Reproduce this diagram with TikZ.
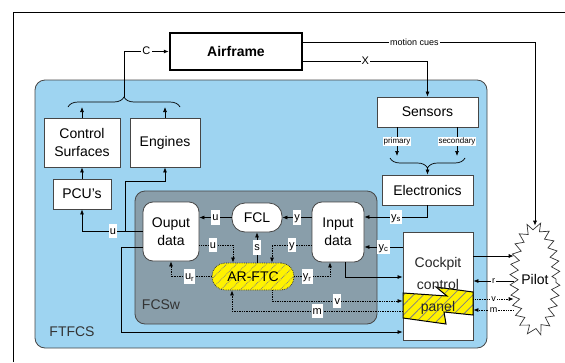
\documentclass[tikz,border=0pt]{standalone}
\usepackage{fontspec}
\setmainfont{Liberation Sans}
\usetikzlibrary{arrows.meta,calc,decorations.pathreplacing,decorations.pathmorphing,shapes.geometric,patterns.meta}
\definecolor{skyfill}{RGB}{158,212,241}
\definecolor{swgray}{RGB}{137,158,170}
\definecolor{edgegray}{RGB}{70,70,70}

\tikzset{
  blk/.style={draw=edgegray, fill=white, line width=0.8pt, align=center, inner sep=0pt,
    font=\fontsize{14}{18}\selectfont},
  swblk/.style={blk, rounded corners=10pt},
  lbl/.style={fill=white, inner sep=1.2pt, text height=9pt, text depth=3pt, font=\fontsize{11}{13}\selectfont},
  tinylbl/.style={fill=white, inner sep=1pt, font=\fontsize{8}{9}\selectfont},
  pilotlbl/.style={fill=white, inner sep=0.8pt, font=\fontsize{9}{10}\selectfont},
  flow/.style={line width=0.7pt, -{Latex[length=5pt,width=4pt]}},
  dflow/.style={flow, densely dotted},
  hatch/.style={preaction={fill=yellow}, pattern={Lines[angle=45,distance=7pt,line width=0.8pt]}, pattern color=black!50},
  bracket/.style={line width=0.7pt, decorate, decoration={brace, amplitude=10pt}},
}

\begin{document}
\begin{tikzpicture}[x=1pt,y=-1pt]
  \useasboundingbox (0,0) rectangle (565,362);
  % frame
  \draw[line width=0.8pt] (13,362) -- (13,12) -- (565,12);
  % FTFCS and FCSw areas
  \draw[edgegray, fill=skyfill, rounded corners=10pt, line width=0.8pt] (35,80) rectangle (487,348);
  \node[font=\fontsize{14}{16}\selectfont, text=black!80] (ftfcs) at (72,332) {FTFCS};
  \draw[edgegray, fill=swgray, rounded corners=10pt, line width=0.8pt] (135,191) rectangle (377,324);
  \node[font=\fontsize{14}{16}\selectfont, text=black!80] (fcsw) at (161,305) {FCSw};

  % blocks
  \node[blk, draw=black, line width=2.5pt, font=\bfseries\fontsize{14}{16}\selectfont,
        minimum width=132, minimum height=37] (airframe) at (236,51.5) {Airframe};
  \node[blk, minimum width=76, minimum height=49] (ctrl) at (82,142.5) {Control\\Surfaces};
  \node[blk, minimum width=70, minimum height=49] (engines) at (165,142.5) {Engines};
  \node[blk, minimum width=58, minimum height=30] (pcu) at (82,194) {PCU's};
  \node[blk, minimum width=101, minimum height=30] (sensors) at (427.5,112) {Sensors};
  \node[blk, minimum width=91, minimum height=30] (elec) at (427.5,190) {Electronics};
  \node[swblk, minimum width=56, minimum height=59] (ouput) at (171,231.5) {Ouput\\data};
  \node[swblk, rounded corners=13pt, minimum width=50, minimum height=29] (fcl) at (257,217.5) {FCL};
  \node[swblk, minimum width=52, minimum height=60] (input) at (338,232) {Input\\data};
  \node[hatch, draw=black!80, densely dotted, line width=0.8pt, rounded corners=13pt, inner sep=0pt,
        font=\fontsize{14}{16}\selectfont, minimum width=82, minimum height=27] (arftc) at (253,276.5) {AR-FTC};
  \node[blk, minimum width=70, minimum height=108] (cockpit) at (438,286) {};
  \draw[hatch, draw=black, line width=1pt] (403,293) -- (447,296) -- (436,287) -- (473,292) -- (473,315)
        -- (444,312) -- (446,324) -- (403,318) -- cycle;
  \node[align=center, font=\fontsize{14}{16}\selectfont, text=black!85] (cptext) at (cockpit) {Cockpit\\[6pt]control\\[6pt]panel};
  \node[ellipse, draw=black!80, fill=white, line width=0.7pt, decorate,
        decoration={zigzag, segment length=10pt, amplitude=4pt}, inner sep=0pt,
        minimum width=42, minimum height=106, font=\fontsize{14}{16}\selectfont] (pilot) at (535,279) {Pilot};

  % airframe links
  \coordinate (cbl) at (68,107); \coordinate (cbr) at (180,107); \coordinate (ctip) at (124,97);
  \draw[bracket] (cbl) -- (cbr);
  \draw[flow] (ctip) |- node[lbl, pos=0.75] {C} (airframe.west);
  \draw[flow] (ctrl.north) -- (ctrl.north |- cbl);
  \draw[flow] (engines.north) -- (engines.north |- cbl);
  \draw[flow] (airframe.east |- 0,61) -| node[lbl, pos=0.25] {X} (sensors.north);
  \draw[flow] (airframe.east |- 0,42) -| node[pilotlbl, pos=0.24] {motion cues} (pilot.north);

  % sensors
  \coordinate (prim) at (397,156); \coordinate (sec) at (457,156);
  \coordinate (sbr) at (465,158); \coordinate (sbl) at (390,158); \coordinate (stip) at (427.5,168);
  \draw[flow] (sensors.south -| prim) -- node[tinylbl] {primary} (prim);
  \draw[flow] (sensors.south -| sec) -- node[tinylbl] {secondary} (sec);
  \draw[bracket] (sbr) -- (sbl);
  \draw[flow] (stip) -- (elec.north);
  \draw[flow] (elec.south) |- node[lbl, pos=0.75] {y\textsubscript{s}} (input.east |- 0,217);
  \draw[flow] (cockpit.west |- 0,247) -- node[lbl] {y\textsubscript{c}} (input.east |- 0,247);

  % inside FCSw
  \draw[flow] (input.west |- fcl) -- node[lbl] {y} (fcl.east);
  \draw[flow] (fcl.west) -- node[lbl] {u} (ouput.east |- fcl);
  \draw[flow] (arftc.north -| fcl) -- node[lbl] {s} (fcl.south);
  \draw[dflow] (ouput.east |- 0,245) -| node[lbl, pos=0.2] {u} ([xshift=-20pt]arftc.north);
  \draw[dflow] (input.west |- 0,245) -| node[lbl, pos=0.25] {y} ([xshift=19pt]arftc.north);
  \draw[dflow] (arftc.west) -| node[lbl, pos=0.27] {u\textsubscript{r}} (ouput.south);
  \draw[dflow] (arftc.east) -| node[lbl, pos=0.18] {y\textsubscript{r}} ([xshift=-8pt]input.south);
  \draw[flow] ([xshift=7pt]input.south) |- (cockpit.west |- 0,277);
  \draw[dflow] ([xshift=19pt]arftc.south) |- node[lbl, pos=0.75] {v} (cockpit.west |- 0,301);
  \draw[dflow] (cockpit.west |- 0,311) -| node[lbl, pos=0.25] {m} ([xshift=-21pt]arftc.south);

  % output data to actuators
  \coordinate (ubr) at (125,231); \coordinate (lpc) at (121,332);
  \draw[flow] (ouput.west |- 0,231) -| node[lbl, pos=0.245] {u} (pcu.south);
  \draw[flow] (ubr) |- ([yshift=-14pt]engines.south) -- (engines.south);
  \draw[flow] (pcu.north) -- (ctrl.south);
  \draw[flow] (ouput.west |- 0,247) -| (lpc) -- (cockpit.west |- lpc);

  % pilot
  \draw[flow] (cockpit.east |- 0,256) -- (pilot.west |- 0,256);
  \draw[flow] (pilot.west |- 0,281) -- node[pilotlbl] {r} (cockpit.east |- 0,281);
  \draw[dflow] (cockpit.east |- 0,299) -- node[pilotlbl] {v} (pilot.west |- 0,299);
  \draw[dflow] (pilot.west |- 0,310) -- node[pilotlbl] {m} (cockpit.east |- 0,310);
\end{tikzpicture}
\end{document}
